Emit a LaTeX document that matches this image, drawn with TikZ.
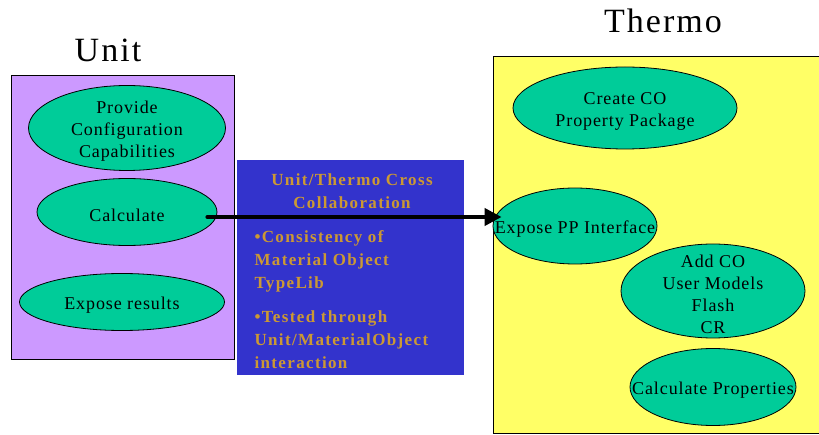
\documentclass[tikz,border=0pt]{standalone}
\usepackage{fontspec}
\setmainfont{Liberation Serif}
\newfontfamily\headfont[LetterSpace=6]{Liberation Serif}
\newfontfamily\ovalfont[LetterSpace=5]{Liberation Serif}
\newfontfamily\collabfont[LetterSpace=8]{Liberation Serif}
\usetikzlibrary{
arrows.meta,
positioning,
shapes.geometric
}
\definecolor{unitviolet}{HTML}{CC99FF}
\definecolor{thermoyellow}{HTML}{FFFF66}
\definecolor{ovalgreen}{HTML}{00CC99}
\definecolor{collabblue}{HTML}{3333CC}
\definecolor{collabgold}{HTML}{CC9933}
\tikzset{>=latex}

\begin{document}
\begin{tikzpicture}[x=1pt, y=-1pt,
	panel/.style={draw, line width=.8pt, anchor=north west, inner sep=0pt},
	oval/.style={ellipse, draw, line width=.8pt, fill=ovalgreen, inner sep=0pt},
	ovaltext/.style={align=center, yshift=-3pt, font=\ovalfont\fontsize{18}{22}\selectfont},
	heading/.style={anchor=base, font=\headfont\fontsize{34}{40}\selectfont},
	collab/.style={text=collabgold, font=\collabfont\bfseries\fontsize{17}{23}\selectfont},
	flow/.style={-{Triangle[length=17pt,width=17pt]}, line width=4pt, line cap=round}]
		\useasboundingbox (0,0) rectangle (819,435);
		
		% panels
		\node[panel, fill=unitviolet, minimum width=223pt, minimum height=284pt]   (unitbox)   at (11,75)  {};
		\node[panel, fill=thermoyellow, minimum width=340pt, minimum height=377pt] (thermobox) at (493,56) {};
		\node[panel, draw=none, fill=collabblue, minimum width=227pt, minimum height=215pt] (collabbox) at (237,160) {};
		
		\node[heading] (unittitle)   at (108,62) {Unit};
		\node[heading] (thermotitle) at (663,33) {Thermo};
		
		% unit side
		\node[oval, minimum width=197pt, minimum height=85pt, label={[ovaltext]center:{Provide\\Configuration\\Capabilities}}] (config) at (127,128) {};
		\node[oval, minimum width=180pt, minimum height=67pt, label={[ovaltext]center:Calculate}]      (calc)    at (127,212) {};
		\node[oval, minimum width=205pt, minimum height=57pt, label={[ovaltext]center:Expose results}] (results) at (122,302) {};
		
		% thermo side
		\node[oval, minimum width=224pt, minimum height=82pt, label={[ovaltext]center:{Create CO\\Property Package}}] (createpp) at (625,108) {};
		\node[oval, minimum width=164pt, minimum height=76pt, label={[ovaltext]center:Expose PP Interface}]          (ppif)     at (575,226) {};
		\node[oval, minimum width=184pt, minimum height=94pt, label={[ovaltext]center:{Add CO\\User Models\\Flash\\CR}}] (usermod) at (713,291) {};
		\node[oval, minimum width=166pt, minimum height=77pt, label={[ovaltext]center:Calculate Properties}]         (calcprop) at (713,387) {};
		
		% cross collaboration
		\node[collab, align=center]           (collabtitle) at (352,191) {Unit/Thermo Cross\\Collaboration};
		\node[collab, align=left, anchor=west] (typelib)    at (251,261) {\textbullet Consistency of\\Material Object\\TypeLib};
		\node[collab, align=left, anchor=west] (tested)     at (251,340) {\textbullet Tested through\\Unit/MaterialObject\\interaction};
		
		\draw[flow] ([xshift=-10pt,yshift=-5pt]calc.east) -- ([xshift=9pt,yshift=9pt]ppif.west);
	\end{tikzpicture}
\end{document}
